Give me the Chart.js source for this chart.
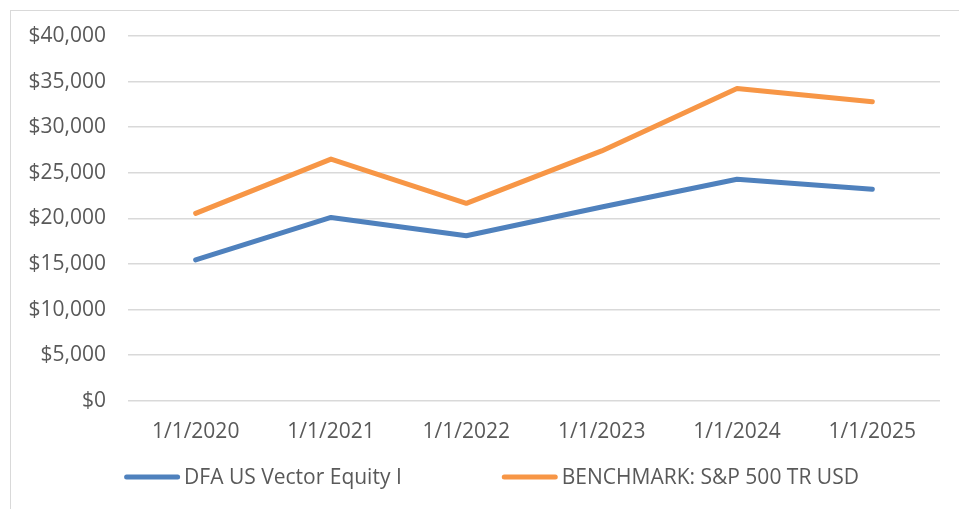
<!DOCTYPE html>
<html>
<head>
<meta charset="utf-8">
<script src="https://cdn.jsdelivr.net/npm/chart.js@4/dist/chart.umd.min.js"></script>
<style>
  html, body { margin: 0; padding: 0; background: #ffffff; }
  #wrap { position: relative; width: 959px; height: 509px; overflow: hidden; }
  #frame { position: absolute; left: 10px; top: 10px; width: 960px; height: 510px; border: 1.5px solid #d9d9d9; box-sizing: border-box; }
  canvas { position: absolute; left: 0; top: 0; }
</style>
</head>
<body>
<div id="wrap">
  <div id="frame"></div>
  <canvas id="c" width="959" height="509"></canvas>
</div>
<script>
const categories = ["1/1/2020", "1/1/2021", "1/1/2022", "1/1/2023", "1/1/2024", "1/1/2025"];
const fundName = "DFA US Vector Equity I";
const fundValues = [15450, 20100, 18100, 21250, 24300, 23200];
const benchName = "BENCHMARK: S&P 500 TR USD";
const benchValues = [20550, 26500, 21650, 27400, 34250, 32800];
const yTicks = [0, 5000, 10000, 15000, 20000, 25000, 30000, 35000, 40000];

const FONT = "'Open Sans', sans-serif";
const FSIZE = 21;
const TXT = "#595959";

// Legend drawn with the dataset labels/colours from the chart itself
const legendPlugin = {
  id: "bottomLegend",
  afterDraw(chart) {
    const ctx = chart.ctx;
    const sets = chart.data.datasets;
    const swatch = 56, gapText = 4, gapItem = 100;
    ctx.save();
    ctx.font = FSIZE + "px " + FONT;
    const widths = sets.map(d => swatch + gapText + ctx.measureText(d.label).width);
    const total = widths.reduce((a, b) => a + b, 0) + gapItem * (sets.length - 1);
    let x = (chart.width - total) / 2 + 12;
    const y = chart.height - 32;
    sets.forEach((d, i) => {
      ctx.strokeStyle = d.borderColor;
      ctx.lineWidth = 5;
      ctx.lineCap = "round";
      ctx.beginPath();
      ctx.moveTo(x + 2.5, y);
      ctx.lineTo(x + swatch - 2.5, y);
      ctx.stroke();
      ctx.fillStyle = TXT;
      ctx.textBaseline = "middle";
      ctx.textAlign = "left";
      ctx.fillText(d.label, x + swatch + gapText, y + 1);
      x += widths[i] + gapItem;
    });
    ctx.restore();
  }
};

new Chart(document.getElementById("c"), {
  type: "line",
  data: {
    labels: categories,
    datasets: [
      { label: fundName, data: fundValues, borderColor: "#4F81BD", backgroundColor: "#4F81BD",
        borderWidth: 5, pointRadius: 0, tension: 0, borderCapStyle: "round", borderJoinStyle: "round" },
      { label: benchName, data: benchValues, borderColor: "#F79646", backgroundColor: "#F79646",
        borderWidth: 5, pointRadius: 0, tension: 0, borderCapStyle: "round", borderJoinStyle: "round" }
    ]
  },
  plugins: [legendPlugin],
  options: {
    responsive: false,
    animation: false,
    devicePixelRatio: 1,
    layout: { padding: { left: 10, right: 19, top: 36, bottom: 45 } },
    plugins: {
      tooltip: { enabled: false },
      legend: { display: false }
    },
    scales: {
      x: {
        offset: true,
        grid: { display: false, drawTicks: false },
        border: { display: false },
        ticks: { font: { family: FONT, size: FSIZE }, color: TXT, padding: 19, maxRotation: 0 }
      },
      y: {
        min: 0, max: 40000,
        afterFit(scale) { scale.width = 118; },
        afterBuildTicks(scale) { scale.ticks = yTicks.map(v => ({ value: v })); },
        grid: { color: "#d9d9d9", lineWidth: 1.5, drawTicks: false },
        border: { display: false },
        ticks: {
          font: { family: FONT, size: FSIZE }, color: TXT, padding: 22,
          callback: v => "$" + v.toLocaleString("en-US")
        }
      }
    }
  }
});
</script>
</body>
</html>
